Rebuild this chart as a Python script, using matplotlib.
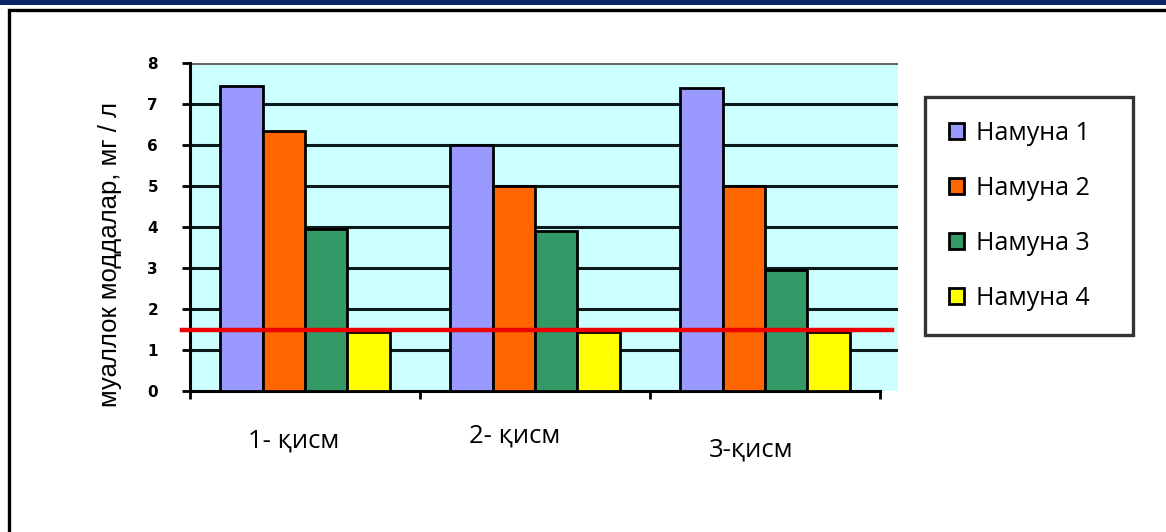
import numpy as np
import matplotlib.pyplot as plt
from matplotlib.patches import Rectangle

# маълумот
qismlar = ['1- қисм', '2- қисм', '3-қисм']
namunalar = ['Намуна 1', 'Намуна 2', 'Намуна 3', 'Намуна 4']
namuna1 = [7.45, 6.0, 7.4]
namuna2 = [6.35, 5.0, 5.0]
namuna3 = [3.95, 3.9, 2.95]
namuna4 = [1.45, 1.45, 1.45]
meyor = 1.5
ranglar = ['#9999ff', '#ff6600', '#339966', '#ffff00']

fig = plt.figure(figsize=(11.66, 5.32), dpi=100)
W, H = 1166, 532

# рамка ва юқори тасма
fig.patches.append(Rectangle((0, 1 - 5 / H), 1, 5 / H, transform=fig.transFigure,
                             facecolor='#0d2668', edgecolor='none'))
fig.patches.append(Rectangle((9 / W, -0.1), 1.2, 1 - 10 / H + 0.1, transform=fig.transFigure,
                             facecolor='none', edgecolor='black', linewidth=2.4))

ax = fig.add_axes([190 / W, 141 / H, 708 / W, 328 / H])
ax.set_facecolor('#ccffff')
ax.set_xlim(0, 3.078)
ax.set_ylim(0, 8)

# тўр чизиқлари
for y in range(1, 8):
    ax.axhline(y, color='#0a1a1a', linewidth=2.2, zorder=1)
ax.axhline(8, color='#666666', linewidth=2.2, zorder=1)

seriyalar = [namuna1, namuna2, namuna3, namuna4]
w = 0.184
x = np.arange(len(qismlar)) + 0.5
for i, (vals, c) in enumerate(zip(seriyalar, ranglar)):
    ax.bar(x + (i - 1.5) * w, vals, width=w, color=c, edgecolor='black',
           linewidth=2, zorder=3, label=namunalar[i])

ax.plot([-0.035, 3.05], [meyor, meyor], color='#ee0000', linewidth=3.2,
        zorder=4, clip_on=False)

for s in ['top', 'right']:
    ax.spines[s].set_visible(False)
ax.spines['left'].set_linewidth(2.2)
ax.spines['bottom'].set_linewidth(2.2)
ax.spines['bottom'].set_bounds(0, 3)

ax.set_yticks(range(0, 9))
ax.set_yticklabels([str(v) for v in range(0, 9)], fontsize=11, fontweight='bold',
                   family='DejaVu Sans')
ax.tick_params(axis='y', length=6, width=2, pad=17)
ax.set_xticks([0, 1, 2, 3])
ax.set_xticklabels([])
ax.tick_params(axis='x', length=6, width=2)

# категория номлари
qism_x = [0.45, 1.41, 2.44]
qism_dy = [-50, -45, -59]
for lab, qx, dy in zip(qismlar, qism_x, qism_dy):
    ax.annotate(lab, (qx, 0), xytext=(0, dy), textcoords='offset pixels',
                ha='center', va='center', fontsize=18.5, family='Open Sans')

fig.text(110 / W, 1 - 254 / H, 'муаллок моддалар, мг / л', rotation=90,
         ha='center', va='center', fontsize=18.5, family='Liberation Sans')

# легенда: 925..1133 x 97..327 пиксел
leg = ax.legend(loc='upper left', mode='expand',
                bbox_to_anchor=(925 / W, 1 - 327 / H, 208 / W, 230 / H),
                bbox_transform=fig.transFigure, frameon=True, fancybox=False,
                prop={'family': 'Open Sans', 'size': 18}, handlelength=0.6,
                handleheight=0.6, handletextpad=0.5, labelspacing=1.2,
                borderpad=0.95, borderaxespad=0)
leg.get_frame().set_edgecolor('black')
leg.get_frame().set_linewidth(2.4)

fig.savefig('out.png', dpi=100)
